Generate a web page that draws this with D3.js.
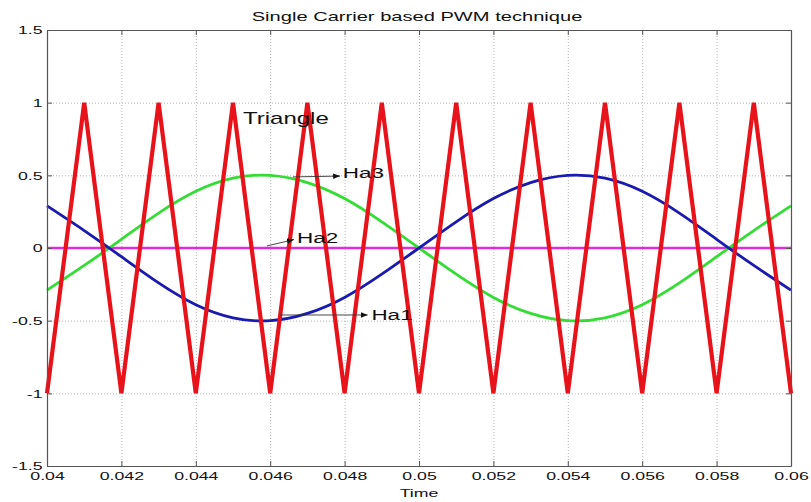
<!DOCTYPE html>
<html>
<head>
<meta charset="utf-8">
<script src="https://cdn.jsdelivr.net/npm/d3@7"></script>
<style>
  body { margin: 0; background: #fff; }
  text { font-family: "Liberation Sans", Arial, sans-serif; fill: #111; }
</style>
</head>
<body>
<div class="chart"></div>
<script>
// values, one sample every 0.001 s
var time = [0.040, 0.041, 0.042, 0.043, 0.044, 0.045, 0.046, 0.047, 0.048, 0.049, 0.050,
            0.051, 0.052, 0.053, 0.054, 0.055, 0.056, 0.057, 0.058, 0.059, 0.060];
var triangle = [-1, 1, -1, 1, -1, 1, -1, 1, -1, 1, -1, 1, -1, 1, -1, 1, -1, 1, -1, 1, -1];
var ha1 = [0.29, 0.12, -0.06, -0.24, -0.39, -0.48, -0.50, -0.45, -0.34, -0.18, 0,
           0.18, 0.34, 0.45, 0.50, 0.48, 0.39, 0.24, 0.06, -0.12, -0.29];
var ha2 = [0, 0, 0, 0, 0, 0, 0, 0, 0, 0, 0, 0, 0, 0, 0, 0, 0, 0, 0, 0, 0];
var ha3 = [-0.29, -0.12, 0.06, 0.24, 0.39, 0.48, 0.50, 0.45, 0.34, 0.18, 0,
           -0.18, -0.34, -0.45, -0.50, -0.48, -0.39, -0.24, -0.06, 0.12, 0.29];

var xTicks = [0.04, 0.042, 0.044, 0.046, 0.048, 0.05, 0.052, 0.054, 0.056, 0.058, 0.06];
var xTickLabels = ["0.04", "0.042", "0.044", "0.046", "0.048", "0.05", "0.052", "0.054", "0.056", "0.058", "0.06"];
var yTicks = [-1.5, -1, -0.5, 0, 0.5, 1, 1.5];
var yTickLabels = ["-1.5", "-1", "-0.5", "0", "0.5", "1", "1.5"];

var titleText = "Single Carrier based PWM technique";
var xLabel = "Time";

// text labels with arrows, in data units
var notes = [
  { label: "Triangle", x: 0.04527, y: 0.85, size: 16 },
  { label: "Ha3", x: 0.04795, y: 0.48, size: 15, from: [0.04661, 0.489], to: [0.04788, 0.495] },
  { label: "Ha2", x: 0.04672, y: 0.036, size: 15, from: [0.04591, 0.014], to: [0.04664, 0.058] },
  { label: "Ha1", x: 0.04872, y: -0.495, size: 15, from: [0.04626, -0.461], to: [0.04862, -0.461] }
];

var chartWidth = 811;
var chartHeight = 502;
var stretch = 1.5; // the reference picture is stretched sideways

var plotLeft = 47, plotRight = 791, plotTop = 30, plotBottom = 466;

var x = d3.scaleLinear().domain([0.04, 0.06]).range([plotLeft, plotRight]);
var y = d3.scaleLinear().domain([-1.5, 1.5]).range([plotBottom, plotTop]);

var svg = d3.select(".chart")
  .append("svg")
  .attr("width", chartWidth)
  .attr("height", chartHeight);

svg.append("defs").append("marker")
  .attr("id", "arrow")
  .attr("viewBox", "0 0 10 10")
  .attr("refX", 10).attr("refY", 5)
  .attr("markerWidth", 7).attr("markerHeight", 7)
  .attr("markerUnits", "userSpaceOnUse")
  .attr("orient", "auto")
  .append("path")
  .attr("d", "M0,1 L10,5 L0,9 Z")
  .attr("fill", "#111");

// grid
var grid = svg.append("g").attr("class", "grid");
grid.append("g")
  .attr("transform", "translate(0," + plotBottom + ")")
  .call(d3.axisBottom(x).tickValues(xTicks).tickSize(-(plotBottom - plotTop)).tickFormat(""));
grid.append("g")
  .attr("transform", "translate(" + plotLeft + ",0)")
  .call(d3.axisLeft(y).tickValues(yTicks).tickSize(-(plotRight - plotLeft)).tickFormat(""));
grid.selectAll(".domain").remove();
grid.selectAll("line")
  .attr("stroke", "#b4b4b4")
  .attr("stroke-width", 1)
  .attr("stroke-dasharray", "1,2");

// series
var line = d3.line()
  .x(function(d, i) { return x(time[i]); })
  .y(function(d) { return y(d); });
var smooth = d3.line()
  .x(function(d, i) { return x(time[i]); })
  .y(function(d) { return y(d); })
  .curve(d3.curveNatural);

svg.append("path").datum(ha2).attr("d", line)
  .attr("fill", "none").attr("stroke", "#e02ce0").attr("stroke-width", 2.5);
svg.append("path").datum(ha3).attr("d", smooth)
  .attr("fill", "none").attr("stroke", "#33dd33").attr("stroke-width", 2.8);
svg.append("path").datum(ha1).attr("d", smooth)
  .attr("fill", "none").attr("stroke", "#1a1ab0").attr("stroke-width", 2.8);
svg.append("path").datum(triangle).attr("d", line)
  .attr("fill", "none").attr("stroke", "#e8121a").attr("stroke-width", 4.2);

// frame and ticks
function styleAxis(g) {
  g.selectAll(".domain").attr("stroke", "#555").attr("stroke-width", 1.2);
  g.selectAll(".tick line").attr("stroke", "#555");
  g.selectAll(".tick text")
    .attr("font-size", "11.8px")
    .attr("font-family", "Liberation Sans, Arial, sans-serif")
    .attr("fill", "#111");
}

var xAxis = svg.append("g")
  .attr("transform", "translate(0," + plotBottom + ")")
  .call(d3.axisBottom(x).tickValues(xTicks).tickSize(-5).tickSizeOuter(0).tickPadding(6)
    .tickFormat(function(d, i) { return xTickLabels[i]; }));
styleAxis(xAxis);
xAxis.selectAll(".tick text").attr("transform", "scale(" + stretch + ",1)");

var yAxis = svg.append("g")
  .attr("transform", "translate(" + plotLeft + ",0)")
  .call(d3.axisLeft(y).tickValues(yTicks).tickSize(-5).tickSizeOuter(0).tickPadding(3)
    .tickFormat(function(d, i) { return yTickLabels[i]; }));
styleAxis(yAxis);
yAxis.selectAll(".tick text").attr("transform", "scale(" + stretch + ",1)");

var topAxis = svg.append("g")
  .attr("transform", "translate(0," + plotTop + ")")
  .call(d3.axisTop(x).tickValues(xTicks).tickSize(-5).tickSizeOuter(0).tickFormat(""));
styleAxis(topAxis);

var rightAxis = svg.append("g")
  .attr("transform", "translate(" + plotRight + ",0)")
  .call(d3.axisRight(y).tickValues(yTicks).tickSize(-5).tickSizeOuter(0).tickFormat(""));
styleAxis(rightAxis);

// titles
function stretchedText(px, py, str, size, anchor) {
  return svg.append("text")
    .attr("transform", "translate(" + px + "," + py + ") scale(" + stretch + ",1)")
    .attr("text-anchor", anchor)
    .attr("font-size", size + "px")
    .text(str);
}

stretchedText((plotLeft + plotRight) / 2 - 2, 21, titleText, 13.4, "middle");
stretchedText((plotLeft + plotRight) / 2, 497, xLabel, 11.8, "middle");

// annotations
notes.forEach(function(n) {
  if (n.from) {
    svg.append("line")
      .attr("x1", x(n.from[0])).attr("y1", y(n.from[1]))
      .attr("x2", x(n.to[0])).attr("y2", y(n.to[1]))
      .attr("stroke", "#333").attr("stroke-width", 0.9)
      .attr("marker-end", "url(#arrow)");
  }
  stretchedText(x(n.x), y(n.y), n.label, n.size, "start");
});
</script>
</body>
</html>
